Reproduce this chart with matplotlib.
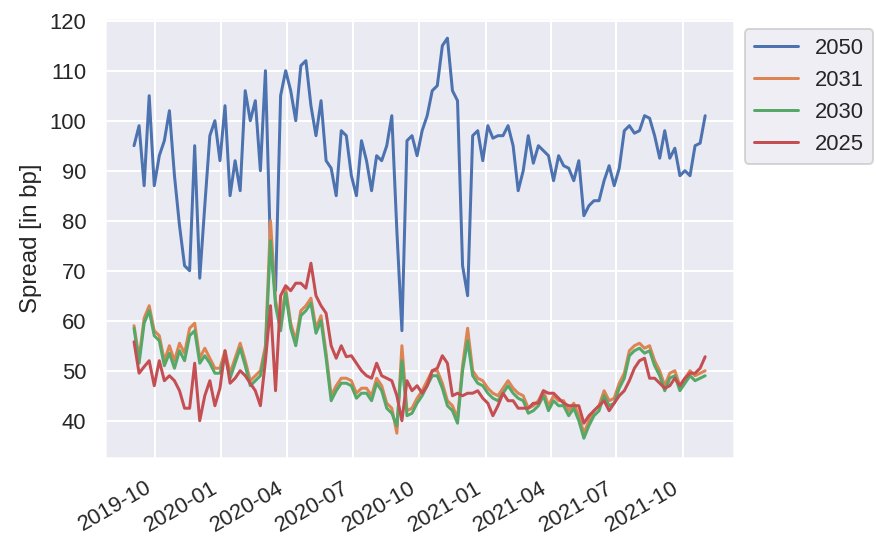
import pandas as pd
import matplotlib
matplotlib.use('Agg')
import matplotlib.pyplot as plt
import matplotlib.dates as mdates
import seaborn as sns

dates = pd.date_range('2019-09-02', '2021-11-01', freq='7D')

# Spreads in bp, one value per week
spread_2050 = [95, 99, 87, 105, 87, 93, 96, 102, 89, 79,
               71, 70, 95, 68.5, 83, 97, 100, 92, 103, 85,
               92, 86, 106, 100, 104, 90, 110, 74, 66, 105,
               110, 106, 100, 111, 112, 103, 97, 104, 92, 90.5,
               85, 98, 97, 89, 85, 96, 92, 86, 93, 92,
               95, 101, 78, 58, 96, 97, 93, 98, 101, 106,
               107, 115, 116.5, 106, 104, 71, 65, 97, 98, 92,
               99, 96.5, 97, 97, 99, 95, 86, 90, 97, 91.5,
               95, 94, 93, 88, 93, 91, 90.5, 88, 92, 81,
               83, 84, 84, 88, 91, 87, 90.5, 98, 99, 97.5,
               98, 101, 100.5, 97, 92.5, 98, 92.5, 94.5, 89, 90,
               89, 95, 95.5, 101]

spread_2031 = [59, 52.5, 60.5, 63, 58, 57, 52, 55, 52, 55.5,
               53.5, 58.5, 59.5, 52.5, 54.5, 52.5, 50.5, 50.5, 54, 49.5,
               52.5, 55.5, 52, 48, 49, 50, 55, 80, 64, 59,
               66.5, 59.5, 56, 62, 63, 64.5, 58.5, 61, 53.5, 45,
               47, 48.5, 48.5, 48, 45.5, 46.5, 46.5, 45, 48.5, 47,
               43.5, 42.5, 37.5, 55, 42, 42.5, 44.5, 46, 48, 50,
               50, 47.5, 44, 43, 40.5, 51, 58.5, 50, 48.5, 48,
               46.5, 45.5, 45, 46.5, 48, 46.5, 45.5, 45, 42.5, 43,
               44, 46, 43, 45, 44, 44, 42, 43.5, 41, 37.5,
               40, 42, 43, 46, 44, 44.5, 47.5, 49.5, 54, 55,
               55.5, 54.5, 55, 52, 50, 47, 49.5, 50, 47, 48.5,
               50, 49, 49.5, 50]

spread_2030 = [58.5, 51.5, 59.5, 62, 57, 56, 51, 53.5, 50.5, 54,
               52, 57, 58, 51.5, 53, 51.5, 49.5, 49.5, 53, 48.5,
               51.5, 54.5, 51, 47, 48, 49, 54, 76, 63, 58,
               65.5, 58.5, 55, 61, 62, 63.5, 57.5, 60, 52.5, 44,
               46, 47.5, 47.5, 47, 44.5, 45.5, 45.5, 44, 47.5, 46,
               42.5, 41.5, 39, 52, 41, 41.5, 43.5, 45, 47, 49,
               49, 46.5, 43, 42, 39.5, 50, 56, 49, 47.5, 47,
               45.5, 44.5, 44, 45.5, 47, 45.5, 44.5, 44, 41.5, 42,
               43, 45, 42, 44, 43, 43, 41, 42.5, 40, 36.5,
               39, 41, 42, 45, 43, 43.5, 46.5, 48.5, 53, 54,
               54.5, 53.5, 54, 51, 49, 46, 48.5, 49, 46, 47.5,
               49, 48, 48.5, 49]

spread_2025 = [55.8, 49.5, 50.8, 52, 47, 52, 48, 49, 48, 46,
               42.5, 42.5, 51.5, 40, 45, 48, 43, 46.5, 54, 47.5,
               48.5, 50, 49, 47.5, 46, 43, 52, 63, 46, 65,
               67, 66, 67.5, 67.5, 66.5, 71.5, 65, 63, 61.5, 55,
               52.5, 55, 52.8, 53, 51.5, 50, 49, 48.5, 51.5, 49,
               48.5, 48, 45, 40, 48, 46, 47, 45.5, 47, 50,
               50.5, 53, 51.5, 45, 45.5, 45, 45.5, 45.5, 46, 44.5,
               43.5, 41, 43, 45.5, 44, 44, 42.5, 42.5, 42.5, 43.5,
               43.5, 46, 45.5, 45.5, 44.5, 43.5, 43, 43, 43, 39.5,
               41, 42, 43, 44, 42, 43.5, 45, 46, 48, 50.5,
               52, 52.5, 48.5, 48.5, 47.5, 46.5, 47, 48.5, 47, 48.5,
               49.5, 49.5, 50.5, 52.8]

series = {'2050': spread_2050, '2031': spread_2031,
          '2030': spread_2030, '2025': spread_2025}

sns.set_theme(style='darkgrid')
plt.rcParams['font.family'] = ['Liberation Sans', 'DejaVu Sans']

fig = plt.figure(figsize=(876 / 144, 541 / 144), dpi=144)
ax = fig.add_axes([0.1204, 0.153, 0.7172, 0.8134])

for name, values in series.items():
    ax.plot(dates, values, label=name)

ax.xaxis.set_major_locator(mdates.MonthLocator(bymonth=[1, 4, 7, 10]))
ax.xaxis.set_major_formatter(mdates.DateFormatter('%Y-%m'))
plt.setp(ax.get_xticklabels(), rotation=30, ha='right')

ax.set_ylabel('Spread [in bp]')
ax.legend(loc='upper left', bbox_to_anchor=(1, 1))

fig.savefig('out.png', dpi=144)
